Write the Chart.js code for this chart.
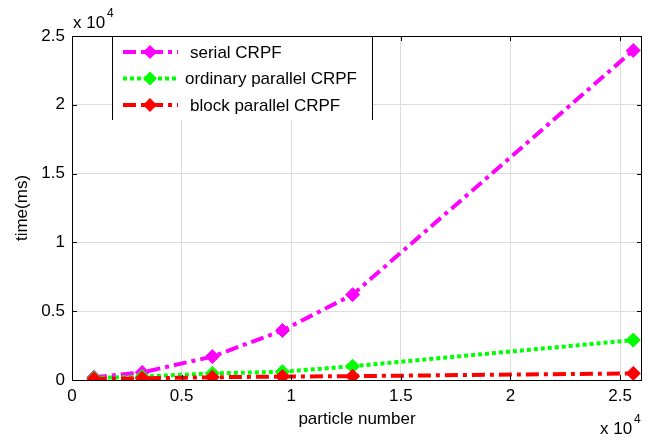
<!DOCTYPE html>
<html>
<head>
<meta charset="utf-8">
<script src="https://cdn.jsdelivr.net/npm/chart.js@4/dist/chart.umd.min.js"></script>
<style>
  body { margin: 0; background: #fff; }
  #wrap { width: 654px; height: 440px; }
</style>
</head>
<body>
<div id="wrap"><canvas id="timeChart" width="654" height="440"></canvas></div>
<script>
// particle counts and run times (ms)
const particles = [1000, 3200, 6400, 9600, 12800, 25600];
const serialTime = [200, 550, 1700, 3600, 6200, 23950];
const ordinaryTime = [150, 250, 480, 600, 1000, 2900];
const blockTime = [80, 120, 200, 250, 280, 480];
const seriesNames = ['serial CRPF', 'ordinary parallel CRPF', 'block parallel CRPF'];
const xTicks = [0, 5000, 10000, 15000, 20000, 25000];
const yTicks = [0, 5000, 10000, 15000, 20000, 25000];

const FONT = 'Liberation Sans, Arial, sans-serif';

const toPts = arr => arr.map((v, i) => ({ x: particles[i], y: v }));

const styles = [
  { color: '#ff00ff', dash: [13, 5, 4, 5] },
  { color: '#00ff00', dash: [4, 3] },
  { color: '#ff0000', dash: [13, 5, 4, 5] }
];

// box, inward ticks, legend and "x 10^4" labels, done the matlab way
const matlabFrame = {
  id: 'matlabFrame',
  afterDatasetsDraw(chart) {
    const { ctx, chartArea: a, scales } = chart;
    ctx.save();
    ctx.strokeStyle = '#000';
    ctx.lineWidth = 1;
    ctx.strokeRect(a.left + 0.5, a.top + 0.5, a.right - a.left - 1, a.bottom - a.top);
    ctx.beginPath();
    scales.x.ticks.forEach(t => {
      const px = Math.round(scales.x.getPixelForValue(t.value)) + 0.5;
      ctx.moveTo(px, a.bottom); ctx.lineTo(px, a.bottom - 5);
      ctx.moveTo(px, a.top); ctx.lineTo(px, a.top + 5);
    });
    scales.y.ticks.forEach(t => {
      const py = Math.round(scales.y.getPixelForValue(t.value)) + 0.5;
      ctx.moveTo(a.left, py); ctx.lineTo(a.left + 5, py);
      ctx.moveTo(a.right, py); ctx.lineTo(a.right - 5, py);
    });
    ctx.stroke();

    // legend box
    const bx = 112, bw = 260, by = a.top + 1, bh = 83;
    ctx.fillStyle = '#fff';
    ctx.fillRect(bx, by, bw, bh);
    ctx.beginPath();
    ctx.moveTo(bx + 0.5, a.top); ctx.lineTo(bx + 0.5, by + bh);
    ctx.moveTo(bx + bw + 0.5, a.top); ctx.lineTo(bx + bw + 0.5, by + bh);
    ctx.stroke();

    chart.data.datasets.forEach((ds, i) => {
      const y = 52 + i * 26.5;
      ctx.strokeStyle = ds.borderColor;
      ctx.lineWidth = ds.borderWidth;
      ctx.setLineDash(ds.borderDash);
      ctx.beginPath();
      ctx.moveTo(123, y); ctx.lineTo(178, y);
      ctx.stroke();
      ctx.setLineDash([]);
      ctx.fillStyle = ds.pointBackgroundColor;
      ctx.beginPath();
      ctx.moveTo(150, y - 7); ctx.lineTo(157, y); ctx.lineTo(150, y + 7); ctx.lineTo(143, y);
      ctx.closePath();
      ctx.fill();
      ctx.fillStyle = '#000';
      ctx.font = '17px ' + FONT;
      ctx.textBaseline = 'middle';
      ctx.textAlign = 'left';
      ctx.fillText(ds.label, i === 1 ? 185 : 190, y + 1);
    });

    // exponent labels
    ctx.fillStyle = '#000';
    ctx.textBaseline = 'alphabetic';
    ctx.font = '17px ' + FONT;
    ctx.fillText('x 10', 73, 28);
    ctx.fillText('x 10', 600, 434);
    ctx.font = '12px ' + FONT;
    ctx.fillText('4', 107, 17);
    ctx.fillText('4', 634, 423);
    ctx.restore();
  }
};

const setTicks = list => scale => { scale.ticks = list.map(v => ({ value: v })); };

new Chart(document.getElementById('timeChart'), {
  type: 'line',
  data: {
    datasets: [serialTime, ordinaryTime, blockTime].map((arr, i) => ({
      label: seriesNames[i],
      data: toPts(arr),
      borderColor: styles[i].color,
      backgroundColor: styles[i].color,
      pointBackgroundColor: styles[i].color,
      pointBorderColor: styles[i].color,
      borderWidth: 4,
      borderDash: styles[i].dash,
      pointStyle: 'rectRot',
      pointRadius: 7,
      pointBorderWidth: 1,
      order: 3 - i,
      tension: 0
    }))
  },
  options: {
    responsive: false,
    animation: false,
    layout: { padding: { top: 36, right: 12, left: 0, bottom: 0 } },
    plugins: {
      legend: { display: false },
      tooltip: { enabled: false }
    },
    scales: {
      x: {
        type: 'linear',
        min: 0,
        max: 26000,
        afterBuildTicks: setTicks(xTicks),
        afterFit(scale) { scale.height = 60; },
        ticks: {
          padding: 6,
          color: '#000',
          font: { family: FONT, size: 17 },
          callback: v => String(v / 10000)
        },
        grid: { color: '#dcdcdc', drawTicks: false },
        border: { display: false },
        title: {
          display: true,
          text: 'particle number',
          color: '#000',
          font: { family: FONT, size: 17 },
          padding: { top: 0, bottom: 10 }
        }
      },
      y: {
        min: 0,
        max: 25000,
        afterBuildTicks: setTicks(yTicks),
        afterFit(scale) { scale.width = 72; },
        ticks: {
          padding: 7,
          color: '#000',
          font: { family: FONT, size: 17 },
          callback: v => String(v / 10000)
        },
        grid: { color: '#dcdcdc', drawTicks: false },
        border: { display: false },
        title: {
          display: true,
          text: 'time(ms)',
          color: '#000',
          font: { family: FONT, size: 17 },
          padding: { top: 12, bottom: 0 }
        }
      }
    }
  },
  plugins: [matlabFrame]
});
</script>
</body>
</html>
